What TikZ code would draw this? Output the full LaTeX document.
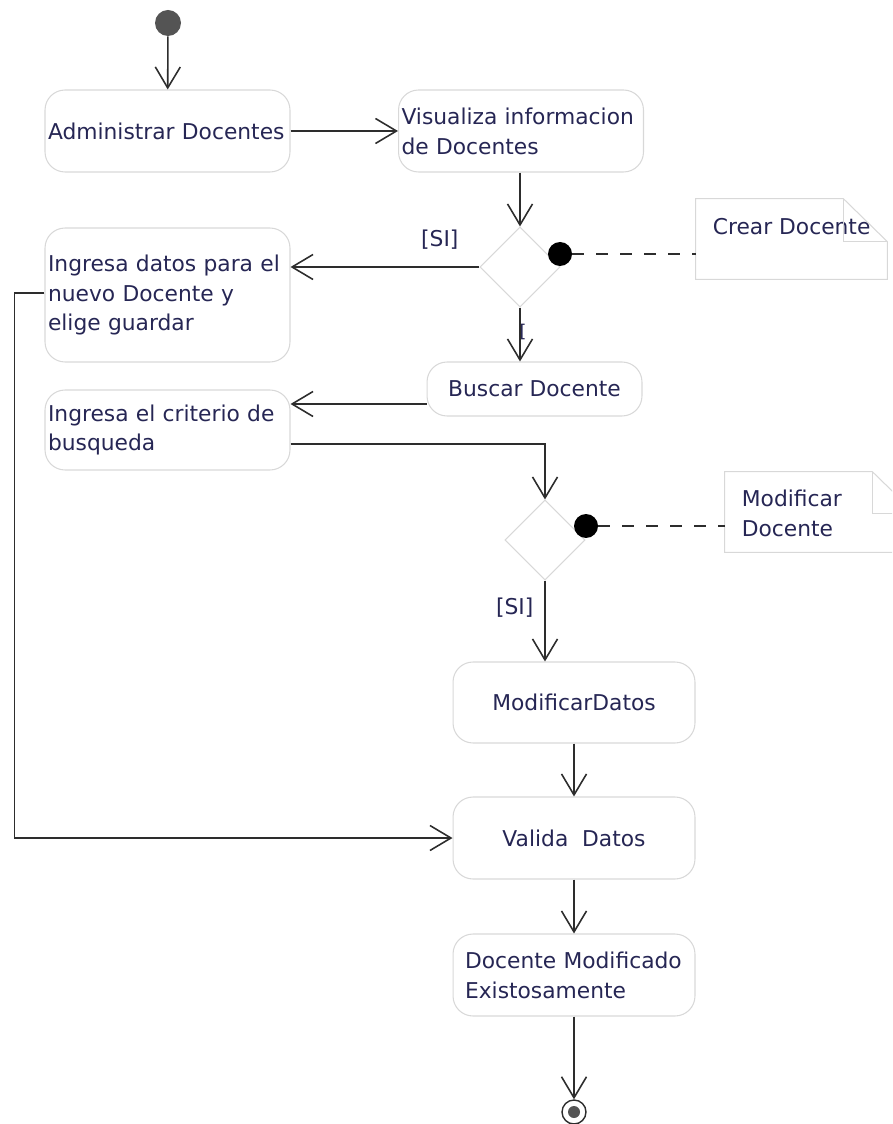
\documentclass[tikz,border=0pt]{standalone}
\usepackage{fontspec}
\setmainfont{DejaVu Sans}
\usepackage{tikz}
\usetikzlibrary{shapes.geometric, arrows.meta, positioning, calc}
\definecolor{tinta}{RGB}{38,38,84}
\definecolor{borde}{RGB}{216,216,216}
\definecolor{linea}{RGB}{45,45,45}

\begin{document}
\begin{tikzpicture}[
    x=0.02cm, y=-0.02cm,
    every node/.style={font=\fontsize{12.4}{17}\selectfont, text=tinta},
    act/.style={rectangle, rounded corners=0.4cm, draw=borde, line width=0.6pt, minimum width=4.84cm, minimum height=1.64cm, align=center},
    actizq/.style={act, align=left, inner xsep=0.06cm, text width=4.78cm},
    decision/.style={diamond, draw=borde, line width=0.6pt, minimum width=1.6cm, minimum height=1.6cm, inner sep=0pt},
    punto/.style={circle, fill=black, minimum size=0.48cm, inner sep=0pt},
    nota/.style={rectangle, minimum width=3.82cm, minimum height=1.6cm, inner sep=0pt},
    notaborde/.style={draw=borde, line width=0.6pt},
    f/.style={-{Straight Barb[length=0.42cm, width=0.5cm]}, line width=0.9pt, draw=linea},
    liga/.style={dashed, dash pattern=on 0.24cm off 0.24cm, line width=0.9pt, draw=linea},
    guarda/.style={font=\fontsize{12.4}{14}\selectfont}
]
\useasboundingbox (0,0) rectangle (892,1124);
\clip (0,0) rectangle (892,1124);

% Inicio
\node[circle, fill=black!67, minimum size=0.52cm, inner sep=0pt] (inicio) at (168,23) {};

% Actividades
\node[actizq, minimum width=4.9cm] (adm) at (167.5,131) {Administrar Docentes};
\node[actizq] (vis) at (521,131) {Visualiza informacion\\de Docentes};
\node[actizq, minimum height=2.68cm] (ingd) at (167.5,295) {Ingresa datos para el\\nuevo Docente y\\elige guardar};
\node[act, minimum width=4.3cm, minimum height=1.08cm] (bus) at (534.5,389) {Buscar Docente};
\node[actizq, minimum height=1.6cm] (crit) at (167.5,430) {Ingresa el criterio de\\busqueda};
\node[act, minimum height=1.62cm] (modd) at (574,702.5) {ModificarDatos};
\node[act] (val) at (574,838) {Valida\ \ Datos};
\node[actizq, inner xsep=0.24cm, text width=4.36cm] (docmod) at (574,975) {Docente Modificado\\Existosamente};

% Decisiones y notas
\node[decision] (d1) at (520,267) {};
\node[punto] (p1) at (560,254) {};
\node[nota] (n1) at (791.5,239) {};
\node[anchor=north west] (t1) at ([xshift=0.22cm, yshift=-0.26cm]n1.north west) {Crear Docente};
\draw[notaborde] (n1.north west) -- ([xshift=-0.88cm]n1.north east) -- ([yshift=-0.86cm]n1.north east) -- (n1.south east) -- (n1.south west) -- cycle;
\draw[notaborde] ([xshift=-0.88cm]n1.north east) |- ([yshift=-0.86cm]n1.north east);

\node[decision] (d2) at (545,540) {};
\node[punto] (p2) at (586,526) {};
\node[nota, minimum width=3.8cm] (n2) at (820,512) {};
\node[anchor=north west, align=left] (t2) at ([xshift=0.22cm, yshift=-0.24cm]n2.north west) {Modificar\\Docente};
\draw[notaborde] (n2.north west) -- ([xshift=-0.86cm]n2.north east) -- ([yshift=-0.84cm]n2.north east) -- (n2.south east) -- (n2.south west) -- cycle;
\draw[notaborde] ([xshift=-0.86cm]n2.north east) |- ([yshift=-0.84cm]n2.north east);

% Final
\node[circle, draw=linea, line width=0.8pt, minimum size=0.48cm, inner sep=0pt] (fin) at (574,1112) {};
\node[circle, fill=black!67, minimum size=0.24cm, inner sep=0pt] (finp) at (fin) {};

% Flujos
\draw[f] (inicio) -- (adm);
\draw[f] (adm) -- (vis);
\draw[f] (vis.south -| d1.north) -- (d1.north);
\draw[f] (d1.west) -- (d1.west -| ingd.east) node[guarda, pos=0.21, above=0.22cm] (si1) {[SI]};
\draw[f] (d1.south) -- (d1.south |- bus.north) node[guarda, pos=0.45, xshift=0.06cm, font=\fontsize{10}{12}\selectfont] (g1) {[};
\draw[f] ([yshift=-0.3cm]bus.west) -- ([yshift=-0.3cm]bus.west -| crit.east);
\draw[f] ([yshift=-0.28cm]crit.east) -| (d2.north);
\draw[f] (d2.south) -- (d2.south |- modd.north) node[guarda, pos=0.33, left=0.1cm] (si2) {[SI]};
\draw[f] (modd) -- (val);
\draw[f] ([yshift=0.04cm]ingd.west) -- ++(-30,0) |- (val.west);
\draw[f] (val) -- (docmod);
\draw[f] (docmod) -- (fin);

% Anclas de notas
\draw[liga] (p1) -- (p1 -| n1.west);
\draw[liga] (p2) -- (p2 -| n2.west);

\end{tikzpicture}
\end{document}
